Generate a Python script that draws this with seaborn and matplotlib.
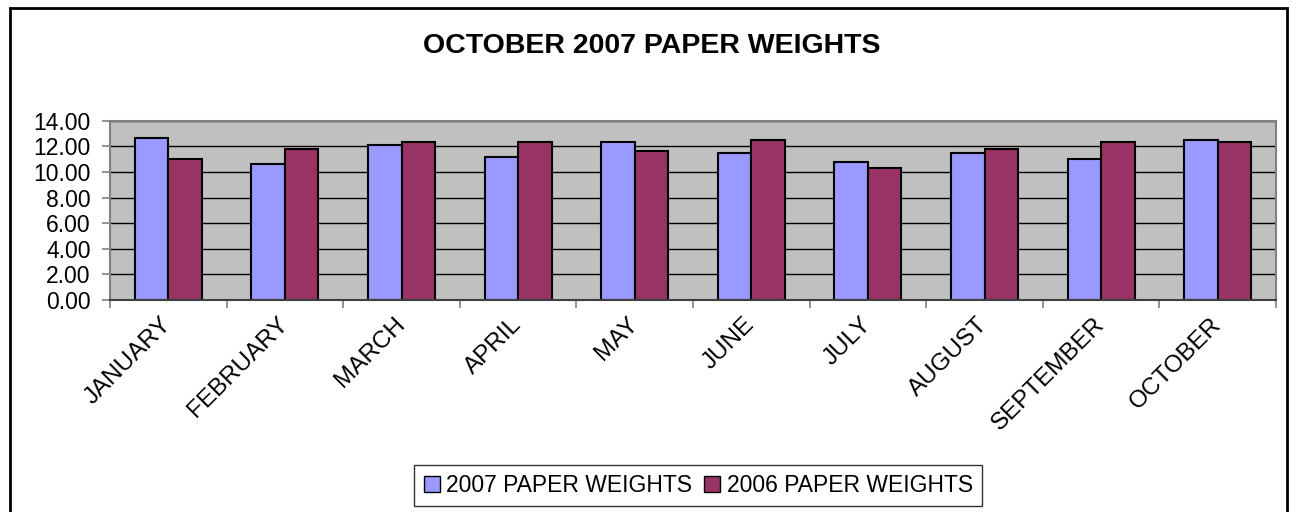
import pandas as pd
import numpy as np
import matplotlib.pyplot as plt
import matplotlib.transforms as mtransforms
import seaborn as sns
from matplotlib.patches import Rectangle, Patch

sns.set_theme(style="white")
plt.rcParams['font.family'] = ['Liberation Sans', 'DejaVu Sans']
plt.rcParams['text.color'] = 'black'
plt.rcParams['xtick.color'] = 'black'
plt.rcParams['ytick.color'] = 'black'

# data
months = ['JANUARY', 'FEBRUARY', 'MARCH', 'APRIL', 'MAY', 'JUNE',
          'JULY', 'AUGUST', 'SEPTEMBER', 'OCTOBER']
weights_2007 = [12.65, 10.59, 12.07, 11.19, 12.36, 11.48, 10.75, 11.48, 11.03, 12.49]
weights_2006 = [11.03, 11.76, 12.36, 12.36, 11.63, 12.49, 10.28, 11.76, 12.36, 12.36]
series = ['2007 PAPER WEIGHTS', '2006 PAPER WEIGHTS']
colors = ['#9999FF', '#993366']

df = pd.DataFrame({
    'month': months * 2,
    'weight': weights_2007 + weights_2006,
    'series': [series[0]] * len(months) + [series[1]] * len(months),
})

fig = plt.figure(figsize=(12.93, 5.12), dpi=100)
ax = fig.add_axes([0.0851, 0.4141, 0.9018, 0.3502])
ax.set_facecolor('#C0C0C0')

sns.barplot(data=df, x='month', y='weight', hue='series', order=months,
            hue_order=series, palette=colors, saturation=1, width=0.575, gap=0,
            edgecolor='black', linewidth=1.5, legend=False, ax=ax)

ax.set_ylim(0, 14)
ax.set_xlim(-0.5, len(months) - 0.5)
ax.set_yticks(np.arange(0, 14.01, 2))
ax.set_yticklabels([f'{v:.2f}' for v in np.arange(0, 14.01, 2)])
ax.yaxis.grid(True, color='black', linewidth=1)
ax.set_axisbelow(True)
ax.set_xlabel('')
ax.set_ylabel('')

ax.set_xticks(range(len(months)))
ax.set_xticklabels(months, rotation=45, ha='right', rotation_mode='anchor')
ax.set_xticks(np.arange(-0.5, len(months), 1), minor=True)
ax.tick_params(axis='x', which='major', length=0, pad=6, labelsize=17.5)
ax.tick_params(axis='x', which='minor', length=6, width=1.2, color='#808080',
               direction='out', bottom=True)
ax.tick_params(axis='y', length=6, width=1.2, color='#808080', labelcolor='black',
               direction='out', left=True, labelsize=16.5, pad=8)

# nudge the rotated month labels down-left, as in the original
shift = mtransforms.ScaledTranslation(-8 / 100, -5 / 100, fig.dpi_scale_trans)
for lbl in ax.get_xticklabels():
    lbl.set_transform(lbl.get_transform() + shift)

for side in ['top', 'right', 'left']:
    ax.spines[side].set_color('#808080')
    ax.spines[side].set_linewidth(1.5)
ax.spines['bottom'].set_color('#404040')
ax.spines['bottom'].set_linewidth(1.5)

fig.text(0.504, 0.91, 'OCTOBER 2007 PAPER WEIGHTS', ha='center', va='center',
         fontsize=20.5, fontweight='bold')

handles = [Patch(facecolor=c, edgecolor='black', linewidth=1) for c in colors]
leg = fig.legend(handles, series, loc='center', bbox_to_anchor=(0.540, 0.052),
                 ncol=2, frameon=True, fancybox=False, fontsize=16.5,
                 handlelength=0.7, handleheight=0.7, handletextpad=0.3,
                 columnspacing=0.5, borderpad=0.4, borderaxespad=0)
leg.get_frame().set_edgecolor('black')
leg.get_frame().set_linewidth(1)

# chart-area border
fig.patches.append(Rectangle((0.0077, -0.05), 0.988, 1.035, transform=fig.transFigure,
                             fill=False, edgecolor='black', linewidth=2))

fig.savefig('out.png', dpi=100)
